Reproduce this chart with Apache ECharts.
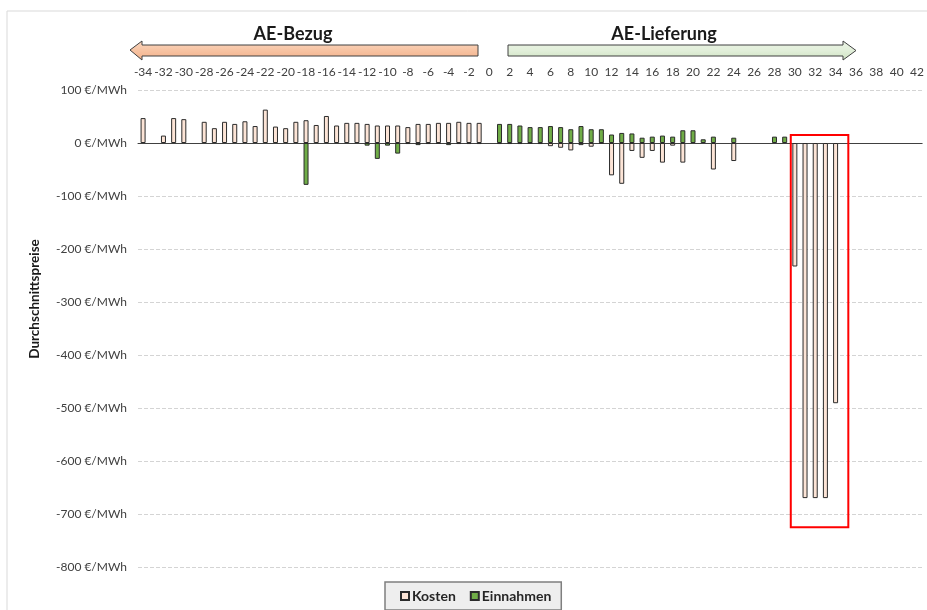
<!DOCTYPE html>
<html>
<head>
<meta charset="utf-8">
<script src="https://cdn.jsdelivr.net/npm/echarts@6/dist/echarts.min.js"></script>
<style>
  html, body { margin: 0; padding: 0; background: #fff; }
  #chart { width: 927px; height: 610px; }
</style>
</head>
<body>
<div id="chart"></div>
<script>
// Stunden-Kategorien von -34 bis 42
const categories = [];
for (let h = -34; h <= 42; h++) categories.push(String(h));

// Durchschnittspreise in €/MWh je Kategorie (null = kein Wert)
const kosten = [
  47, null, 14, 47, 45, null, 40, 28, 40, 36,      // -34 .. -25
  41, 32, 63, 31, 28, 40, 43, 34, 51, 33,          // -24 .. -15
  38, 38, 36, 33, 33, 33, 30, 36, 36, 38,          // -14 .. -5
  38, 40, 38, 38, null,                            // -4 .. 0
  -2, -2, -2, -1, -2, -6, -9, -14, -4, -7,         // 1 .. 10
  -1, -61, -77, -15, -28, -15, -37, -5, -37, null, // 11 .. 20
  null, -50, null, -34, null, null, null, null, null, -233, // 21 .. 30
  -670, -670, -670, -491, null, null, null, null, null, null, // 31 .. 40
  null, null                                       // 41 .. 42
];

const einnahmen = [
  null, null, null, null, null, null, null, null, null, null, // -34 .. -25
  null, null, null, null, null, null, -79, null, null, null,  // -24 .. -15
  null, null, -5, -30, -5, -20, -2, -4, -2, -1,               // -14 .. -5
  -4, -2, -2, -2, null,                                       // -4 .. 0
  36, 36, 33, 30, 30, 32, 30, 26, 32, 26,                     // 1 .. 10
  26, 16, 19, 18, 10, 12, 14, 12, 24, 24,                     // 11 .. 20
  7, 12, null, 10, null, null, null, 12, 12, null,            // 21 .. 30
  null, null, null, null, null, null, null, null, null, null, // 31 .. 40
  null, null                                                  // 41 .. 42
];

const yMin = -800, yMax = 100, yStep = 100;

const FONT = 'Lato, "Open Sans", sans-serif';
const TXT = '#404040';

const chart = echarts.init(document.getElementById('chart'), null, { renderer: 'canvas' });

const option = {
  backgroundColor: '#ffffff',
  animation: false,
  textStyle: { fontFamily: FONT },
  grid: { left: 138, right: 2, top: 90, bottom: 43, containLabel: false },
  legend: {
    left: 385,
    top: 582,
    padding: [7, 10, 7, 15],
    backgroundColor: '#eeeeee',
    borderColor: '#7f7f7f',
    borderWidth: 1.5,
    itemWidth: 8,
    itemHeight: 8,
    itemGap: 14,
    icon: 'rect',
    textStyle: { fontFamily: FONT, fontSize: 14, fontWeight: 'bold', color: '#262626', padding: [0, 0, 0, -2] },
    data: ['Kosten', 'Einnahmen']
  },
  xAxis: [
    {
      // Beschriftung oben
      type: 'category',
      data: categories,
      position: 'top',
      axisLine: { show: false, onZero: false },
      axisTick: { show: false },
      axisLabel: { interval: 1, margin: 12, fontSize: 12, color: TXT, fontFamily: FONT },
      splitLine: { show: false }
    },
    {
      // Nulllinie
      type: 'category',
      data: categories,
      position: 'bottom',
      axisLine: { show: true, onZero: true, lineStyle: { color: '#404040', width: 1 } },
      axisTick: { show: false },
      axisLabel: { show: false },
      splitLine: { show: false }
    }
  ],
  yAxis: {
    type: 'value',
    min: yMin,
    max: yMax,
    interval: yStep,
    axisLine: { show: false },
    axisTick: { show: false },
    axisLabel: {
      formatter: '{value} €/MWh',
      fontSize: 12,
      color: TXT,
      fontFamily: FONT,
      margin: 11
    },
    splitLine: { show: true, lineStyle: { color: '#d4d4d4', width: 1, type: [4, 2] } }
  },
  series: [
    {
      name: 'Einnahmen',
      type: 'bar',
      xAxisIndex: 1,
      data: einnahmen,
      barWidth: 5,
      barGap: '-100%',
      itemStyle: { color: '#70ad47', borderColor: '#2b2b2b', borderWidth: 1 }
    },
    {
      name: 'Kosten',
      type: 'bar',
      xAxisIndex: 1,
      data: kosten,
      barWidth: 5,
      barGap: '-100%',
      itemStyle: { color: '#fce4d6', borderColor: '#2b2b2b', borderWidth: 1 }
    }
  ],
  graphic: [
    // Rahmen des Diagrammbereichs
    { type: 'rect', shape: { x: 7, y: 11, width: 940, height: 620 }, style: { fill: 'none', stroke: '#d9d9d9', lineWidth: 1 }, silent: true },
    // Pfeil AE-Bezug (nach links)
    {
      type: 'polygon',
      shape: { points: [[130, 50], [142, 41], [142, 45], [478, 45], [478, 56], [142, 56], [142, 60]] },
      style: {
        fill: new echarts.graphic.LinearGradient(0, 0, 0, 1, [
          { offset: 0, color: '#fbd9c4' }, { offset: 0.5, color: '#f7c3a2' }, { offset: 1, color: '#f2b08a' }
        ]),
        stroke: '#404040', lineWidth: 1
      }
    },
    {
      type: 'text', x: 293, y: 34,
      style: { text: 'AE-Bezug', font: 'bold 18px ' + FONT, fill: '#1a1a1a', textAlign: 'center', textVerticalAlign: 'middle' }
    },
    // Pfeil AE-Lieferung (nach rechts)
    {
      type: 'polygon',
      shape: { points: [[508, 45], [843, 45], [843, 41], [856, 50.5], [843, 60], [843, 56], [508, 56]] },
      style: {
        fill: new echarts.graphic.LinearGradient(0, 0, 0, 1, [
          { offset: 0, color: '#ecf4e6' }, { offset: 0.5, color: '#e2efda' }, { offset: 1, color: '#cfe3c2' }
        ]),
        stroke: '#404040', lineWidth: 1
      }
    },
    {
      type: 'text', x: 664, y: 34,
      style: { text: 'AE-Lieferung', font: 'bold 18px ' + FONT, fill: '#1a1a1a', textAlign: 'center', textVerticalAlign: 'middle' }
    },
    // Achsentitel
    {
      type: 'text', x: 35, y: 299, rotation: Math.PI / 2,
      style: { text: 'Durchschnittspreise', font: 'bold 13.5px ' + FONT, fill: '#1a1a1a', textAlign: 'center', textVerticalAlign: 'middle' }
    }
  ]
};

chart.setOption(option);

// Markierung der Extremwerte (Kategorien 30 bis 34)
const p30 = chart.convertToPixel({ xAxisIndex: 1, yAxisIndex: 0 }, ['30', 15]);
const p35 = chart.convertToPixel({ xAxisIndex: 1, yAxisIndex: 0 }, ['35', -725]);
const band = chart.convertToPixel({ xAxisIndex: 1 }, '1') - chart.convertToPixel({ xAxisIndex: 1 }, '0');
const x0 = p30[0] - band * 0.4;
const x1 = p35[0] + band * 0.25;
const gfx = option.graphic.slice();
gfx.push({
  type: 'rect',
  shape: { x: x0, y: p30[1], width: x1 - x0, height: p35[1] - p30[1] },
  style: { fill: 'none', stroke: '#ff0000', lineWidth: 2 },
  z: 100
});
chart.setOption({ graphic: gfx }, { replaceMerge: ['graphic'] });
</script>
</body>
</html>
